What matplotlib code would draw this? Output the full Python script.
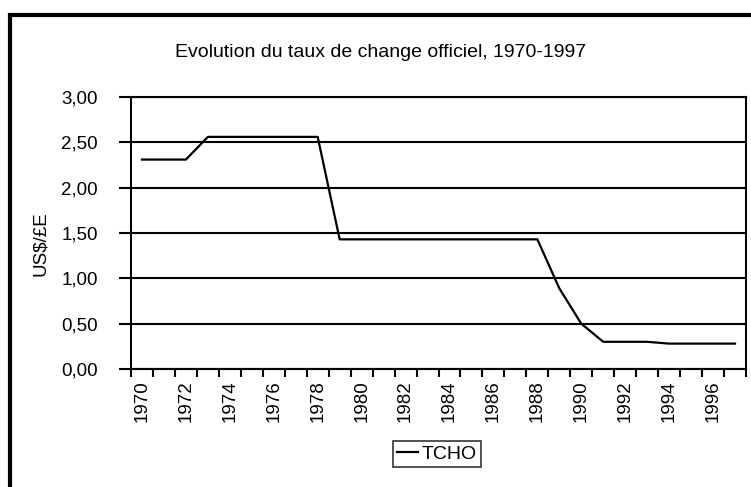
import numpy as np
import matplotlib.pyplot as plt
from matplotlib.patches import Rectangle
from matplotlib.ticker import FixedLocator, FuncFormatter

plt.rcParams['font.family'] = ['Liberation Sans', 'DejaVu Sans']

# Données : taux de change officiel (US$ par livre égyptienne)
years = list(range(1970, 1998))
tcho = [2.31, 2.31, 2.31, 2.56, 2.56, 2.56, 2.56, 2.56, 2.56,
        1.43, 1.43, 1.43, 1.43, 1.43, 1.43, 1.43, 1.43, 1.43, 1.43,
        0.89, 0.50, 0.30, 0.30, 0.30, 0.28, 0.28, 0.28, 0.28]
y_ticks = [0.0, 0.5, 1.0, 1.5, 2.0, 2.5, 3.0]

W, H = 751, 487
fig = plt.figure(figsize=(W / 100, H / 100), dpi=100)
ax = fig.add_axes([131 / W, 1 - 369 / H, (746 - 131) / W, (369 - 97) / H])

x = np.arange(len(years))
ax.plot(x, tcho, color='black', lw=1.6, label='TCHO', zorder=3)

ax.set_xlim(-0.5, len(years) - 0.5)
ax.set_ylim(0, 3)

# axe des catégories : graduations entre les années, étiquettes une sur deux
ax.xaxis.set_major_locator(FixedLocator(np.arange(len(years) + 1) - 0.5))
ax.xaxis.set_minor_locator(FixedLocator(x[::2]))
ax.xaxis.set_major_formatter(FuncFormatter(lambda v, p: ''))
ax.xaxis.set_minor_formatter(FuncFormatter(lambda v, p: str(years[int(round(v))])))
ax.tick_params(axis='x', which='major', direction='out', length=6, width=1.5)
ax.tick_params(axis='x', which='minor', length=0, pad=8, labelrotation=90, labelsize=13.5)

ax.set_yticks(y_ticks)
ax.yaxis.set_major_formatter(FuncFormatter(lambda v, p: f'{v:.2f}'.replace('.', ',')))
ax.tick_params(axis='y', direction='out', length=9, width=1.5, pad=15, labelsize=13.5)

ax.grid(axis='y', color='black', lw=1.5)
ax.set_axisbelow(True)
for s in ax.spines.values():
    s.set_linewidth(1.5)
    s.set_color('black')

ax.set_ylabel('US$/£E', fontsize=13.5, labelpad=10)
ax.yaxis.set_label_coords(49 / W, 0.5, transform=fig.transFigure)

fig.text(175 / W, 1 - 57 / H, 'Evolution du taux de change officiel, 1970-1997',
         fontsize=14, ha='left', va='baseline')

leg = fig.legend(loc='center', bbox_to_anchor=(437 / W, 1 - 454 / H), fontsize=14,
                 frameon=True, fancybox=False, edgecolor='black', handlelength=1.1,
                 handletextpad=0.2, borderpad=0.2, borderaxespad=0)
leg.get_frame().set_linewidth(1.2)

# cadre extérieur du graphique
fig.patches.append(Rectangle((9.5 / W, -0.05), 1.1, 1.05 - 14.5 / H, transform=fig.transFigure,
                             fill=False, edgecolor='black', lw=3, clip_on=False))

fig.savefig('out.png', dpi=100)
